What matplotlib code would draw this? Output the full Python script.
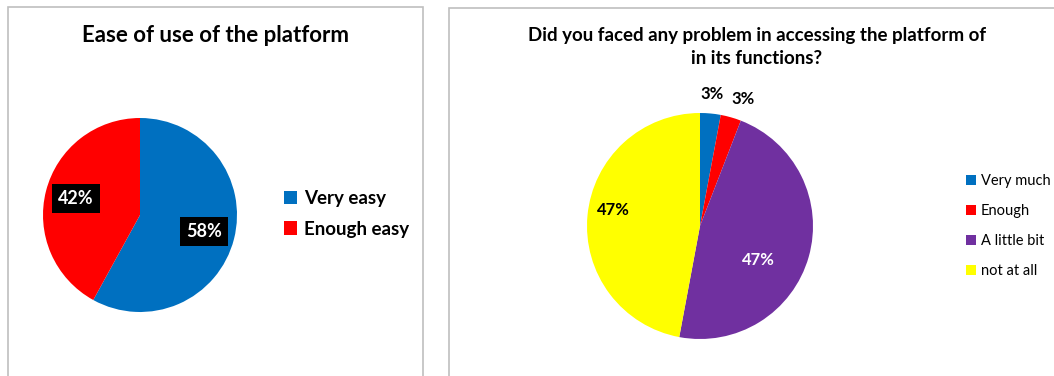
import matplotlib.pyplot as plt
import numpy as np
from matplotlib.patches import Rectangle

plt.rcParams["font.family"] = ["Lato", "DejaVu Sans"]

W, H = 1054, 376

ease_labels = ["Very easy", "Enough easy"]
ease_values = [58, 42]
ease_colors = ["#0070C0", "#FF0000"]

problem_labels = ["Very much", "Enough", "A little bit", "not at all"]
problem_values = [1, 1, 16, 16]
problem_colors = ["#0070C0", "#FF0000", "#7030A0", "#FFFF00"]
# label radius (as fraction of pie radius) and angle shift (deg) for each slice
problem_label_r = [1.17, 1.19, 0.6, 0.78]
problem_label_rot = [0, -3, -14, -5]


def px_axes(fig, cx, cy, r):
    return fig.add_axes([(cx - r) / W, (H - cy - r) / H, 2 * r / W, 2 * r / H])


fig = plt.figure(figsize=(W / 100, H / 100), dpi=100)

# chart frames
for x0, y0, x1, y1 in [(8, 7, 423, 380), (449, 8, 1060, 380)]:
    fig.add_artist(Rectangle((x0 / W, 1 - y1 / H), (x1 - x0) / W, (y1 - y0) / H,
                             transform=fig.transFigure, fill=False,
                             edgecolor="#bfbfbf", linewidth=1.2))

# left chart
ax1 = px_axes(fig, 140, 215, 97)
wedges1, _, pct1 = ax1.pie(ease_values, colors=ease_colors, startangle=90,
                           counterclock=False, autopct="%d%%", pctdistance=0.68,
                           wedgeprops=dict(linewidth=0))
for t in pct1:
    t.set_color("white")
    t.set_fontweight("bold")
    t.set_fontsize(13)
    t.set_bbox(dict(facecolor="black", edgecolor="none", pad=4.5))
ax1.set_xlim(-1, 1)
ax1.set_ylim(-1, 1)
fig.text(215 / W, 1 - 36 / H, "Ease of use of the platform", ha="center", va="center",
         fontsize=16, fontweight="bold")
fig.legend(wedges1, ease_labels, loc="center left", bbox_to_anchor=(267 / W, 1 - 214 / H),
           frameon=False, prop=dict(size=13.5, weight="bold"), handlelength=0.7,
           handleheight=0.7, handletextpad=0.4, labelspacing=0.7)

# right chart
ax2 = px_axes(fig, 700, 226, 113)
wedges2, _, pct2 = ax2.pie(problem_values, colors=problem_colors, startangle=90,
                           counterclock=False,
                           autopct=lambda p: f"{round(p)}%", pctdistance=1.0,
                           wedgeprops=dict(linewidth=0))
for t, w, r, rot, c in zip(pct2, wedges2, problem_label_r, problem_label_rot, problem_colors):
    ang = np.deg2rad((w.theta1 + w.theta2) / 2 + rot)
    t.set_position((r * np.cos(ang), r * np.sin(ang)))
    t.set_fontweight("bold")
    t.set_fontsize(12)
    t.set_color("white" if c == "#7030A0" else "black")
ax2.set_xlim(-1, 1)
ax2.set_ylim(-1, 1)
fig.text(757 / W, 1 - 47 / H,
         "Did you faced any problem in accessing the platform of\nin its functions?",
         ha="center", va="center", fontsize=13.5, fontweight="bold", linespacing=1.45)
fig.legend(wedges2, problem_labels, loc="center left", bbox_to_anchor=(953 / W, 1 - 226 / H),
           frameon=False, prop=dict(size=10.5), handlelength=0.7,
           handleheight=0.7, handletextpad=0.3, labelspacing=1.1)

fig.savefig("out.png", dpi=100)
